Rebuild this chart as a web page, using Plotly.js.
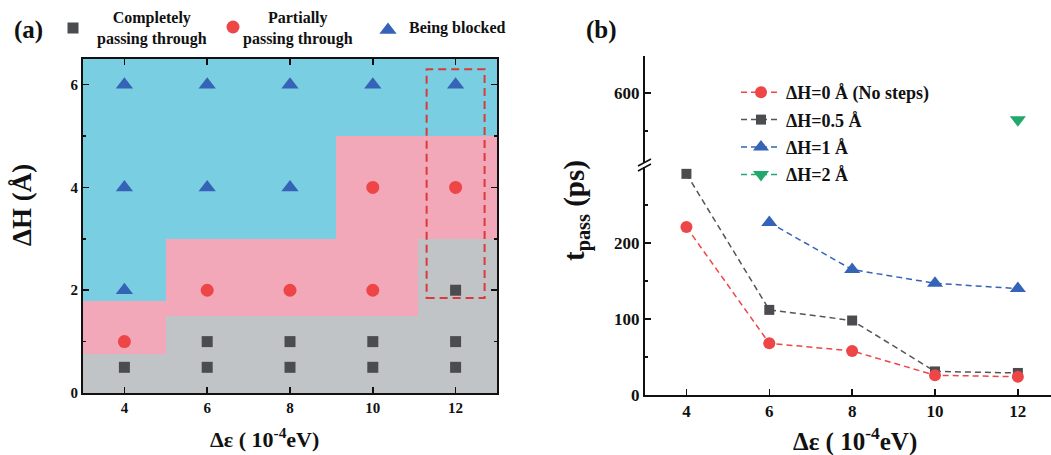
<!DOCTYPE html>
<html>
<head>
<meta charset="utf-8">
<script src="https://cdn.plot.ly/plotly-3.0.1.min.js"></script>
<style>html,body{margin:0;padding:0;background:#fff;}#chart{width:1051px;height:455px;}</style>
</head>
<body>
<div id="chart"></div>
<script>
// ---------- Panel (a) data ----------
const epsTicks = [4, 6, 8, 10, 12];
const regionXEdges = [3, 5, 9.1, 11.1, 13];
const regionYEdges = [0, 0.75, 1.5, 1.8, 3, 5, 6.5];
// 0 = completely passing, 1 = partially passing, 2 = blocked
const regionZ = [
  [0, 0, 0, 0],
  [1, 0, 0, 0],
  [1, 1, 1, 0],
  [2, 1, 1, 0],
  [2, 2, 1, 1],
  [2, 2, 2, 2]
];
const completeX = [4, 6, 6, 8, 8, 10, 10, 12, 12, 12];
const completeY = [0.5, 0.5, 1, 0.5, 1, 0.5, 1, 0.5, 1, 2];
const partialX = [4, 6, 8, 10, 10, 12];
const partialY = [1, 2, 2, 2, 4, 4];
const blockedX = [4, 4, 4, 6, 6, 8, 8, 10, 12];
const blockedY = [2, 4, 6, 4, 6, 4, 6, 6, 6];
const highlightX = [11.3, 12.7];
const highlightY = [1.85, 6.3];
const hTicksA = [0, 2, 4, 6];

// ---------- Panel (b) data ----------
const epsB = [4, 6, 8, 10, 12];
const tH0 = [221, 68, 58, 26, 24];
const tH05 = [291, 112, 98, 31, 29];
const epsH1 = [6, 8, 10, 12];
const tH1 = [227, 165, 147, 140];
const epsH2 = [12];
const tH2 = [565];
const tTicksLow = [0, 100, 200];
const tTicksHigh = [600];

const FONT = 'Liberation Serif, Times New Roman, serif';
const cGreyBg = '#c1c4c7', cPinkBg = '#f3a8ba', cCyanBg = '#79cfe1';
const cSq = '#4a4c4f', cCi = '#ee4646', cTr = '#3563b7', cGr = '#22a86c';
const W = 1051, H = 455;
const px = v => v / W, py = v => 1 - v / H;

const traces = [
  {type: 'heatmap', x: regionXEdges, y: regionYEdges, z: regionZ, xaxis: 'x', yaxis: 'y',
   zmin: 0, zmax: 2, showscale: false, hoverinfo: 'skip', showlegend: false,
   colorscale: [[0, cGreyBg], [0.333, cGreyBg], [0.333, cPinkBg], [0.667, cPinkBg], [0.667, cCyanBg], [1, cCyanBg]]},
  {type: 'scatter', mode: 'markers', x: completeX, y: completeY, xaxis: 'x', yaxis: 'y', name: ' ',
   legend: 'legend2', marker: {symbol: 'square', size: 11, color: cSq}},
  {type: 'scatter', mode: 'markers', x: partialX, y: partialY, xaxis: 'x', yaxis: 'y', name: ' ',
   legend: 'legend3', marker: {symbol: 'circle', size: 13, color: cCi}},
  {type: 'scatter', mode: 'markers', x: blockedX, y: blockedY, xaxis: 'x', yaxis: 'y', name: ' ',
   legend: 'legend4', marker: {symbol: 'triangle-up', size: 15, color: cTr}},
  // panel b
  {type: 'scatter', mode: 'lines+markers', x: epsB, y: tH05, xaxis: 'x2', yaxis: 'y2', name: 'ΔH=0.5 Å',
   legendrank: 2, legendgroup: 'g2', line: {color: '#555', width: 1.5, dash: '6px,4px'},
   marker: {symbol: 'square', size: 10, color: cSq}},
  {type: 'scatter', mode: 'lines+markers', x: epsB, y: tH0, xaxis: 'x2', yaxis: 'y2', name: 'ΔH=0 Å (No steps)',
   legendrank: 1, legendgroup: 'g1', line: {color: cCi, width: 1.5, dash: '6px,4px'},
   marker: {symbol: 'circle', size: 12, color: cCi}},
  {type: 'scatter', mode: 'lines+markers', x: epsH1, y: tH1, xaxis: 'x2', yaxis: 'y2', name: 'ΔH=1 Å',
   legendrank: 3, legendgroup: 'g3', line: {color: cTr, width: 1.5, dash: '6px,4px'},
   marker: {symbol: 'triangle-up', size: 14, color: cTr}},
  {type: 'scatter', mode: 'lines+markers', x: epsH2, y: tH2, xaxis: 'x2', yaxis: 'y3', name: 'ΔH=2 Å',
   legendrank: 4, legendgroup: 'g4', line: {color: cGr, width: 1.5, dash: '6px,4px'},
   marker: {symbol: 'triangle-down', size: 14, color: cGr}}
];

const tickFontA = {family: FONT, size: 15, color: '#111', weight: 'bold'};
const tickFontB = {family: FONT, size: 17, color: '#111', weight: 'bold'};
const axLine = {showline: true, linecolor: '#111', linewidth: 2, showgrid: false, zeroline: false,
  ticks: 'inside', ticklen: 6, tickwidth: 1.5, tickcolor: '#111'};
const minorTicks = {ticks: 'inside', ticklen: 3, tickwidth: 1.5, tickcolor: '#111'};

const ann = (text, x, y, size, extra) => Object.assign({text: text, xref: 'paper', yref: 'paper',
  x: px(x), y: py(y), xanchor: 'center', yanchor: 'middle', showarrow: false,
  font: {size: size, weight: 'bold', family: FONT, color: '#111'}}, extra || {});

const layout = {
  width: W, height: H, margin: {l: 0, r: 0, t: 0, b: 0},
  paper_bgcolor: '#fff', plot_bgcolor: '#fff',
  font: {family: FONT, color: '#111'},
  xaxis: Object.assign({}, axLine, {domain: [px(83), px(497)], range: [3, 13], anchor: 'y',
    tickvals: epsTicks, mirror: 'ticks', tickfont: tickFontA}),
  yaxis: Object.assign({}, axLine, {domain: [py(393), py(59)], range: [0, 6.5], anchor: 'x',
    tickvals: hTicksA, mirror: 'ticks', tickfont: tickFontA,
    minor: Object.assign({tickvals: [1, 3, 5]}, minorTicks)}),
  xaxis2: Object.assign({}, axLine, {domain: [px(645), 1], range: [3, 12.8], anchor: 'y2', tickvals: epsTicks,
    tickfont: tickFontB}),
  xaxis3: Object.assign({}, axLine, {domain: [px(645), 1], range: [3, 12.8], anchor: 'y3', overlaying: 'x2',
    side: 'top', matches: 'x2', tickvals: epsTicks, showticklabels: false}),
  yaxis2: Object.assign({}, axLine, {domain: [py(395), py(167)], range: [0, 300], anchor: 'x2',
    tickvals: tTicksLow, tickfont: tickFontB, minor: Object.assign({tickvals: [50, 150, 250]}, minorTicks)}),
  yaxis3: Object.assign({}, axLine, {domain: [py(163), py(56)], range: [508, 649], anchor: 'x2',
    tickvals: tTicksHigh, tickfont: tickFontB, minor: Object.assign({tickvals: [550]}, minorTicks)}),
  showlegend: true,
  legend: {x: px(736), y: py(74), xanchor: 'left', yanchor: 'top', bgcolor: 'rgba(0,0,0,0)',
    font: {family: FONT, size: 18, weight: 'bold', color: '#111'}, traceorder: 'grouped', tracegroupgap: 1,
    itemwidth: 40},
  legend2: {x: px(53), y: py(28), xanchor: 'left', yanchor: 'middle', bgcolor: 'rgba(0,0,0,0)', font: {size: 12}},
  legend3: {x: px(213), y: py(27), xanchor: 'left', yanchor: 'middle', bgcolor: 'rgba(0,0,0,0)', font: {size: 12}},
  legend4: {x: px(368), y: py(30), xanchor: 'left', yanchor: 'middle', bgcolor: 'rgba(0,0,0,0)', font: {size: 12}},
  shapes: [
    {type: 'rect', xref: 'x', yref: 'y', x0: highlightX[0], x1: highlightX[1], y0: highlightY[0], y1: highlightY[1],
     line: {color: '#d93a3a', width: 2, dash: '8px,5px'}, fillcolor: 'rgba(0,0,0,0)'},
    {type: 'line', xref: 'paper', yref: 'paper', x0: px(638), x1: px(651), y0: py(171), y1: py(164),
     line: {color: '#111', width: 1.5}},
    {type: 'line', xref: 'paper', yref: 'paper', x0: px(638), x1: px(651), y0: py(166), y1: py(159),
     line: {color: '#111', width: 1.5}}
  ],
  annotations: [
    ann('(a)', 28, 30, 25),
    ann('(b)', 601, 30, 25),
    ann('Completely<br>passing through', 152, 28, 16, {align: 'center'}),
    ann('Partially<br>passing through', 298, 28, 16, {align: 'center'}),
    ann('Being blocked', 457, 28, 16),
    ann('ΔH (Å)', 22, 205, 27, {textangle: -90}),
    ann('Δε ( 10<sup>-4</sup>eV)', 264, 438, 22),
    ann('Δε ( 10<sup>-4</sup>eV)', 855, 439, 25),
    ann('t<sub>pass</sub> (ps)', 576, 211, 29, {textangle: -90})
  ]
};

Plotly.newPlot('chart', traces, layout, {staticPlot: true, displayModeBar: false});
</script>
</body>
</html>
